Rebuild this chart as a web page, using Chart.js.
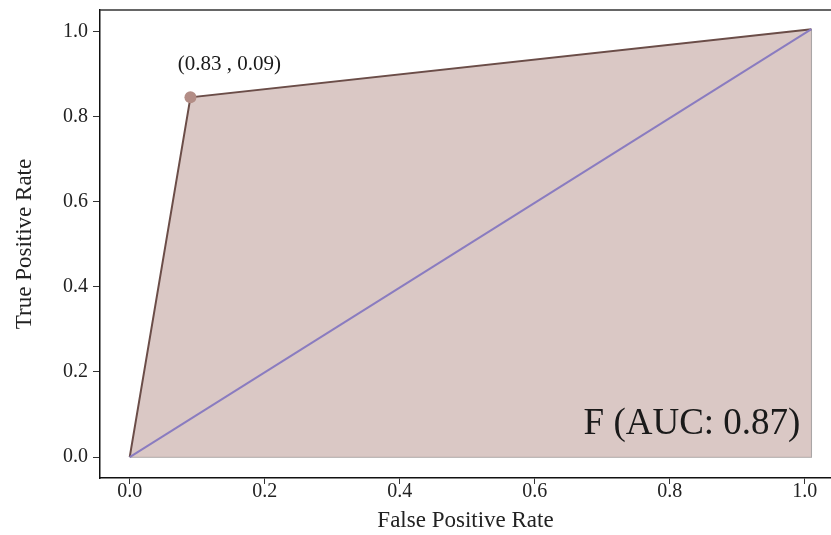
<!DOCTYPE html>
<html>
<head>
<meta charset="utf-8">
<script src="https://cdn.jsdelivr.net/npm/chart.js@4/dist/chart.umd.min.js"></script>
<style>
  html, body { margin: 0; padding: 0; background: #ffffff; }
  #wrap { width: 831px; height: 535px; }
</style>
</head>
<body>
<div id="wrap"><canvas id="c" width="831" height="535"></canvas></div>
<script>
// ---- data ----
const rocFPR = [0.0, 0.09, 1.01];
const rocTPR = [0.0, 0.845, 1.005];
const chanceFPR = [0.0, 1.01];
const chanceTPR = [0.0, 1.005];
const edgeFPR = [1.01, 1.01, 0.0];
const edgeTPR = [1.005, 0.0, 0.0];
const tickValues = [0.0, 0.2, 0.4, 0.6, 0.8, 1.0];
const pointLabel = "(0.83 , 0.09)";
const markedIndex = 1;
const aucLabel = "F (AUC: 0.87)";

const toXY = (xs, ys) => xs.map((x, i) => ({ x: x, y: ys[i] }));
const SERIF = "'Liberation Serif', 'DejaVu Serif', serif";

const annotations = {
  id: 'annotations',
  afterDatasetsDraw(chart) {
    const { ctx, chartArea, scales } = chart;
    const xs = scales.x, ys = scales.y;
    ctx.save();
    // top frame line
    ctx.strokeStyle = '#333333';
    ctx.lineWidth = 1.5;
    ctx.beginPath();
    ctx.moveTo(chartArea.left, chartArea.top);
    ctx.lineTo(chartArea.right, chartArea.top);
    ctx.stroke();
    // point label
    const px = xs.getPixelForValue(rocFPR[markedIndex]);
    const py = ys.getPixelForValue(rocTPR[markedIndex]);
    ctx.fillStyle = '#1a1a1a';
    ctx.font = '21px ' + SERIF;
    ctx.textAlign = 'center';
    ctx.textBaseline = 'middle';
    ctx.fillText(pointLabel, px + 39, py - 33);
    // AUC label
    ctx.font = '37px ' + SERIF;
    ctx.textAlign = 'right';
    ctx.textBaseline = 'alphabetic';
    ctx.fillText(aucLabel, xs.getPixelForValue(rocFPR[2]) - 11, ys.getPixelForValue(0) - 23);
    ctx.restore();
  }
};

new Chart(document.getElementById('c'), {
  type: 'scatter',
  data: {
    datasets: [
      {
        label: 'edges',
        data: toXY(edgeFPR, edgeTPR),
        showLine: true,
        borderColor: '#a3a3a3',
        borderWidth: 1.2,
        pointRadius: 0,
        fill: false,
        order: 3
      },
      {
        label: 'ROC',
        data: toXY(rocFPR, rocTPR),
        showLine: true,
        borderColor: '#6b4d48',
        borderWidth: 2,
        backgroundColor: 'rgba(210,188,184,0.82)',
        fill: { target: { value: 0 } },
        pointRadius: [0, 6, 0],
        pointBackgroundColor: '#b38d86',
        pointBorderColor: '#b38d86',
        pointBorderWidth: 0,
        order: 2
      },
      {
        label: 'chance',
        data: toXY(chanceFPR, chanceTPR),
        showLine: true,
        borderColor: '#8a7cc0',
        borderWidth: 2,
        pointRadius: 0,
        fill: false,
        order: 1
      }
    ]
  },
  options: {
    responsive: false,
    animation: false,
    devicePixelRatio: 1,
    layout: { padding: { top: 10, right: 0, left: 0, bottom: 0 } },
    plugins: {
      legend: { display: false },
      tooltip: { enabled: false }
    },
    scales: {
      x: {
        type: 'linear',
        min: -0.044,
        max: 1.039,
        afterBuildTicks(scale) { scale.ticks = tickValues.map(v => ({ value: v })); },
        afterFit(scale) { scale.height = 57; scale.paddingLeft = 0; scale.paddingRight = 0; },
        border: { display: true, color: '#111111', width: 1.5 },
        grid: { drawOnChartArea: false, drawTicks: true, tickLength: 6, color: '#333333' },
        ticks: {
          color: '#222222',
          font: { family: SERIF, size: 20 },
          padding: -4,
          maxRotation: 0,
          callback: v => v.toFixed(1)
        },
        title: {
          display: true,
          text: 'False Positive Rate',
          color: '#222222',
          font: { family: SERIF, size: 23 },
          padding: { top: 0, bottom: 0 }
        }
      },
      y: {
        type: 'linear',
        min: -0.049,
        max: 1.05,
        afterBuildTicks(scale) { scale.ticks = tickValues.map(v => ({ value: v })); },
        afterFit(scale) { scale.width = 100; scale.paddingTop = 0; scale.paddingBottom = 0; },
        border: { display: true, color: '#111111', width: 1.5 },
        grid: { drawOnChartArea: false, drawTicks: true, tickLength: 7, color: '#333333' },
        ticks: {
          color: '#222222',
          font: { family: SERIF, size: 20 },
          padding: 5,
          callback: v => v.toFixed(1)
        },
        title: {
          display: true,
          text: 'True Positive Rate',
          color: '#222222',
          font: { family: SERIF, size: 23 },
          padding: { top: 11, bottom: 4 }
        }
      }
    }
  },
  plugins: [annotations]
});
</script>
</body>
</html>
